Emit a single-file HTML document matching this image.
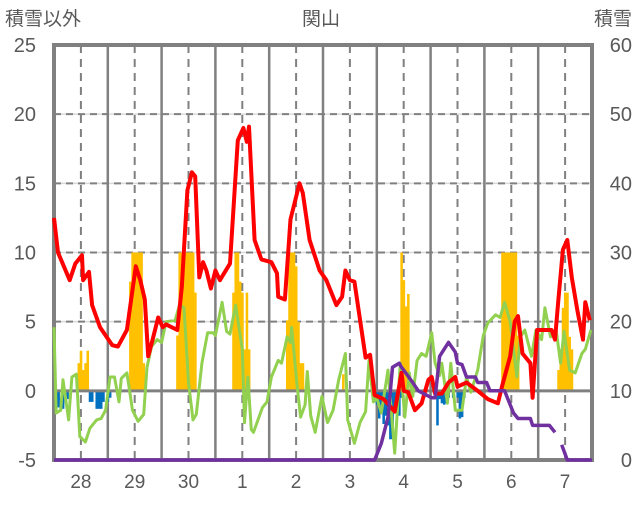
<!DOCTYPE html>
<html><head><meta charset="utf-8"><style>
body{margin:0;background:#fff;}
svg text{font-family:"Liberation Sans","Noto Sans CJK JP",sans-serif;fill:#595959;}
</style></head><body>
<svg id="c" width="636" height="501" xmlns="http://www.w3.org/2000/svg">
<text x="5" y="25" font-size="19">積雪以外</text>
<text x="321" y="25" font-size="19" text-anchor="middle">関山</text>
<text x="632" y="25" font-size="19" text-anchor="end">積雪</text>
<g id="grid"></g><g id="bars"></g><g id="frame"></g><g id="lines"></g><g id="ticks"></g>
</svg>
<script>
const dayLabels=["28","29","30","1","2","3","4","5","6","7"];
const leftTicks=[-5,0,5,10,15,20,25];
const rightTicks=[0,10,20,30,40,50,60];
const orangeHours=[11,12,13,14,15,34,35,36,37,38,39,40,55,56,57,58,59,60,61,62,63,80,81,82,83,84,85,86,87,104,105,106,107,108,109,110,111,129,155,156,157,158,200,201,202,203,204,205,206,207,225,226,227,228,229,230,231];
const orangeVals=[2,2.9,1.5,2,2.9,7.9,10,10,10,10,10,2,4,10,10,10,10,10,10,10,7.1,7.1,10,10,7.9,7.1,3,7.1,3,5.1,10,10,10,9,5,2,2,1.2,10,8,6.1,7,10,10,10,10,10,10,10,4,1.5,3,6,7.1,7.1,3.9,3];
const blueHours=[1,2,4,6,16,17,19,20,21,22,24,25,143,144,145,146,147,148,149,150,151,152,153,154,155,171,172,173,174,175,176,178,180,181,182,183];
const blueVals=[-1.2,-1.2,-1.3,-0.6,-0.8,-0.8,-1.3,-1.3,-1.3,-0.8,-0.8,-0.5,-0.5,-1,-2,-1.5,-2.4,-1.8,-2.5,-3.5,-3.5,-1.5,-0.8,-1.8,-0.5,-2.5,-0.6,-0.9,-1,-0.9,-0.5,-0.5,-0.5,-2,-1.9,-0.5];
const redHours=[0,1.8,7,9.5,12.5,13,15.6,17,20.5,26,28.5,32.5,36.5,38.5,40.5,42,44,46.5,48.5,50,55,57,59.5,61.5,63,64.8,66.5,68,70,72,74,78.5,82,84.5,86,87,89.5,92.5,97,99.5,100,103,105.5,109.5,111,114,118.5,121.5,126,128.5,130,132,134,139,141,143,147,152,155,156,158,161,164,167,168.5,170,173,176,179,180,184,189,193.5,198,200,203.5,205.5,207,209,212.5,213.5,215.5,220,222,223.5,225,227,229,231,233.5,236,237,239];
const redVals=[12.5,10,8,9.2,9.8,8,8.6,6.2,4.6,3.3,3.2,4.4,9,8,6.6,2.5,3.7,5.3,4.6,4.8,4.4,7.5,14.5,15.8,15.5,8.2,9.3,8.7,7.4,8.7,8,9.2,18.1,19,18,19.1,10.9,9.5,9.3,8.5,6.8,6.6,12.4,15,14.3,10.9,8.7,8,6.2,6.8,8.7,8,7.9,2.4,2.6,-0.3,-0.6,-1.5,1.3,0,-0.1,-1.4,-0.9,0.8,1,-0.2,-0.2,0.6,1,0.3,0.6,0,-0.6,-0.9,0.4,2.5,5,5.4,2.7,2,-0.5,4.4,4.4,4.4,3.7,6.6,10.2,10.9,8.2,5.8,3.7,6.4,5.1];
const greenHours=[0,1,3,4,6.5,8,10,11.5,14,16,19,21,23,25,27,29,30,32.5,35,37.5,40,41.5,43.5,46,48,50,54,56,58,60,62,63.5,66,68.5,71,72,75,77,78.5,81,84,85,86.5,88,89,93,95,97,100,101.5,104,105.5,106,108.5,110,112,113,114.5,116.5,119.5,122,124.5,127,130,131,134,136.5,139,140.5,142.5,144,146,149,152,154.5,156.5,158.5,160,162,164,166,168.5,170,172,173,175.5,177,179,182,184,186,189,191.5,193.5,197,199,201,203.5,206.5,208,210,213,215,217.5,219,221.5,224,226,227.5,230,232.5,235.5,237,239.5];
const greenVals=[4.6,-1.6,-1.4,0.8,-2.1,1,1.2,-3.3,-3.7,-2.7,-2.1,-2,-1.4,1,1,-0.8,0.9,1.3,-1.4,-2.2,-1.7,1.7,3.2,3.7,3.5,5,5.1,6.2,6,0.6,-2.1,-1.7,2,4.2,4.2,4,6.4,4.3,4.1,6.2,3,-2.3,1,-2.8,-3,-1.2,-0.8,1,2.2,2,3.9,3.5,4.6,0.3,-1.9,-1,1.4,-1.8,-3,-0.4,-2.3,-1.4,0.8,2.7,-2.1,-3.8,-2.3,-1.5,2.2,-0.8,-0.5,-1.6,1.5,-4.5,2,-1.9,1.3,-0.4,2.2,2.7,2.5,4.2,2,1.1,2,-0.9,2,-1.4,-1.4,1,-0.1,1.5,4,4.9,5.5,5.3,6.4,5,1,3.9,4.4,2.5,4.4,3.7,6,3.9,4.4,2,4.3,1.5,1.3,2.7,3,4.4];
const purpleHours=[0,143,146,149,151,154,155,156,160,162.5,168.5,170,172,176,179,180,182,184,188,189,193,194.5,201,205,207,212.5,213.5,221,223.5,225,226.5,229,240];
const purpleVals=[-5,-5,-3.8,-1.9,1.7,2,1.7,1.5,0.6,0,-0.5,-0.5,2.5,3.5,2.8,2,1.9,1,1,0.6,0.6,0,0,-1.6,-2,-2,-2.5,-2.5,-3,null,-3.9,-5,-5];

const X0=54,X1=592,Y0=45,Y1=460,HOURS=240;
const xs=h=>X0+(X1-X0)*h/HOURS;
const yL=v=>Y1-(v+5)/30*(Y1-Y0);
const yR=v=>Y1-v/60*(Y1-Y0);
const NS="http://www.w3.org/2000/svg";
function mk(tag,attrs,parent){const e=document.createElementNS(NS,tag);for(const k in attrs)e.setAttribute(k,attrs[k]);parent.appendChild(e);return e;}
const grid=document.getElementById('grid'),bars=document.getElementById('bars'),frame=document.getElementById('frame'),lines=document.getElementById('lines'),ticks=document.getElementById('ticks');
[5,10,15,20].forEach(v=>{
 const l=mk('line',{x1:X0,x2:X1,y1:yL(v),y2:yL(v),stroke:'#d9d9d9','stroke-width':1.5},grid);
 
 
 const d=mk('line',{x1:X0,x2:X1,y1:yL(v),y2:yL(v),stroke:'#808080','stroke-width':2,'stroke-dasharray':'7,5'},grid);
 
 
});
dayLabels.forEach((lab,i)=>{
 if(i>0){const s=mk('line',{x1:xs(i*24),x2:xs(i*24),y1:Y0,y2:Y1,stroke:'#808080','stroke-width':2.5},grid);
 
 }
 const d=mk('line',{x1:xs(i*24+12),x2:xs(i*24+12),y1:Y0,y2:Y1,stroke:'#808080','stroke-width':2,'stroke-dasharray':'8,6'},grid);
 
 
 const t=mk('text',{x:xs(i*24+12),y:488,'font-size':19,'text-anchor':'middle'},ticks);t.textContent=lab;
 
 
});
const bw=(X1-X0)/HOURS;
orangeHours.forEach((h,i)=>{const v=orangeVals[i];
 const r=mk('rect',{x:xs(h)-bw/2,y:yL(v),width:bw+0.3,height:yL(0)-yL(v),fill:'#ffc000'},bars);
 
 });
blueHours.forEach((h,i)=>{const v=blueVals[i];
 const r=mk('rect',{x:xs(h)-bw/2,y:yL(0),width:bw+0.3,height:yL(v)-yL(0),fill:'#0070c0'},bars);
 
 });
const z=mk('line',{x1:X0,x2:X1,y1:yL(0),y2:yL(0),stroke:'#808080','stroke-width':3},bars);


const fr=mk('rect',{x:X0,y:Y0,width:X1-X0,height:Y1-Y0,fill:'none',stroke:'#808080','stroke-width':4},frame);


function path(hs,vs){let d='',pen=false;hs.forEach((h,i)=>{if(vs[i]===null){pen=false;return;}d+=(pen?'L':'M')+xs(h).toFixed(1)+','+yL(vs[i]).toFixed(1);pen=true;});return d;}
const pg=mk('path',{d:path(greenHours,greenVals),fill:'none',stroke:'#92d050','stroke-width':3,'stroke-linejoin':'round'},lines);


const pr=mk('path',{d:path(redHours,redVals),fill:'none',stroke:'#ff0000','stroke-width':4,'stroke-linejoin':'round'},lines);


const pp=mk('path',{d:path(purpleHours,purpleVals),fill:'none',stroke:'#7030a0','stroke-width':3.5,'stroke-linejoin':'round'},lines);


leftTicks.forEach(v=>{const t=mk('text',{x:36,y:yL(v)+7,'font-size':20,'text-anchor':'end'},ticks);t.textContent=v;
 
 });
rightTicks.forEach(v=>{const t=mk('text',{x:632,y:yR(v)+7,'font-size':20,'text-anchor':'end'},ticks);t.textContent=v;
 
 });
</script>
</body></html>
